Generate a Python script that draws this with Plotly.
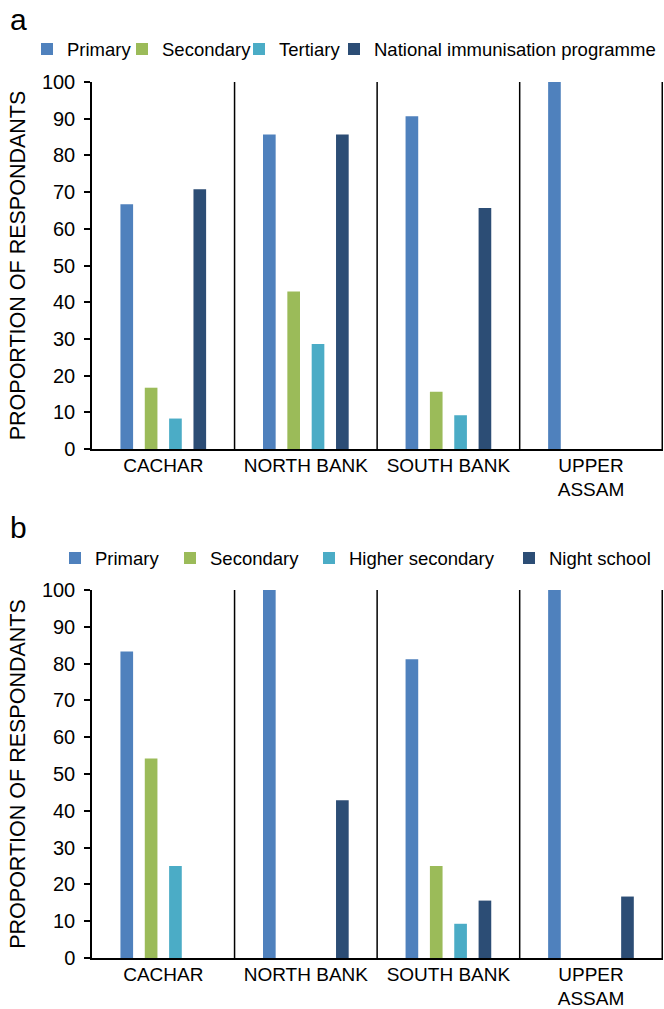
import plotly.graph_objects as go

# ---------------- data ----------------
regions = ["CACHAR", "NORTH BANK", "SOUTH BANK", "UPPER<br>ASSAM"]

series_a = ["Primary", "Secondary", "Tertiary", "National immunisation programme"]
primary_a = [66.7, 85.7, 90.7, 100]
secondary_a = [16.7, 42.9, 15.6, 0]
tertiary_a = [8.3, 28.6, 9.2, 0]
nip_a = [70.8, 85.7, 65.7, 0]

series_b = ["Primary", "Secondary", "Higher secondary", "Night school"]
primary_b = [83.3, 100, 81.2, 100]
secondary_b = [54.2, 0, 25.0, 0]
higher_secondary_b = [25.0, 0, 9.3, 0]
night_school_b = [0, 42.9, 15.6, 16.7]

y_ticks = [0, 10, 20, 30, 40, 50, 60, 70, 80, 90, 100]
y_title = "PROPORTION OF RESPONDANTS"

# ---------------- style ----------------
colors = ["#4F81BD", "#9BBB59", "#4BACC6", "#2C4D75"]
FONT = "Arial, 'Liberation Sans', sans-serif"

# the page body margin is removed (post_script below), so figure fills the window
W, H = 664, 1009

PLOT_L, PLOT_R = 92, 663
A_TOP, A_BOT = 82, 449
B_TOP, B_BOT = 590, 958
ML, MR, MT, MB = PLOT_L, W - PLOT_R, A_TOP, H - B_BOT
plot_w = W - ML - MR
plot_h = H - MT - MB

# legend text start positions (px) per item
leg_text_a = [67, 162, 279, 374]
leg_text_b = [95, 210, 349, 549]
leg_y_a = 49.5
leg_y_b = 558.5
LEG_OFF = 40

fig = go.Figure()

panels = [
    (series_a, [primary_a, secondary_a, tertiary_a, nip_a], "x", "y", leg_text_a, leg_y_a, 1),
    (series_b, [primary_b, secondary_b, higher_secondary_b, night_school_b], "x2", "y2", leg_text_b, leg_y_b, 5),
]

layout_legends = {}
for names, vals, xa, ya, leg_x, leg_y, leg_start in panels:
    for k, (name, v) in enumerate(zip(names, vals)):
        lid = "legend" if leg_start + k == 1 else f"legend{leg_start + k}"
        fig.add_trace(go.Bar(
            x=regions, y=v, name=name, xaxis=xa, yaxis=ya,
            marker=dict(color=colors[k], line=dict(width=0)),
            legend=lid, showlegend=True,
        ))
        layout_legends[lid] = dict(
            xref="container", yref="container",
            x=(leg_x[k] - LEG_OFF) / W, xanchor="left",
            y=1 - leg_y / H, yanchor="middle",
            orientation="h", bgcolor="rgba(0,0,0,0)", borderwidth=0,
            font=dict(family=FONT, size=18.5, color="#000"),
        )

a_bottom = (H - MB - A_BOT) / plot_h
b_top = (H - MB - B_TOP) / plot_h

yax = dict(
    range=[0, 100], tickvals=y_ticks, showgrid=False, zeroline=False,
    showline=True, linecolor="#000", linewidth=1.5,
    ticks="outside", ticklen=6, tickwidth=1.5, tickcolor="#000",
    tickfont=dict(family=FONT, size=20, color="#000"),
    ticklabelstandoff=5,
    title=dict(text=y_title, font=dict(family=FONT, size=21.5, color="#000"), standoff=10),
)
xax = dict(
    showgrid=False, zeroline=False, showline=True, linecolor="#000", linewidth=1.5,
    ticks="", tickfont=dict(family=FONT, size=19, color="#000"), ticklabelstandoff=-2,
)

shapes = []
for xa, ya in [("x", "y"), ("x2", "y2")]:
    for i in range(len(regions)):
        shapes.append(dict(type="line", xref=xa, yref=ya, x0=i + 0.5, x1=i + 0.5,
                           y0=0, y1=100, line=dict(color="#000", width=1.5)))


def paper_x(x):
    return (x - ML) / plot_w


def paper_y(y):
    return (H - MB - y) / plot_h


fig.update_layout(
    width=W, height=H,
    margin=dict(l=ML, r=MR, t=MT, b=MB, autoexpand=False),
    paper_bgcolor="white", plot_bgcolor="white",
    barmode="group", bargap=0.317, bargroupgap=0.48,
    font=dict(family=FONT, color="#000"),
    xaxis=dict(xax, domain=[0, 1], anchor="y"),
    yaxis=dict(yax, domain=[a_bottom, 1], anchor="x"),
    xaxis2=dict(xax, domain=[0, 1], anchor="y2"),
    yaxis2=dict(yax, domain=[0, b_top], anchor="x2"),
    shapes=shapes,
    annotations=[
        dict(text="a", xref="paper", yref="paper", x=paper_x(8), xanchor="left",
             y=paper_y(19), yanchor="middle", showarrow=False,
             font=dict(family=FONT, size=30, color="#000")),
        dict(text="b", xref="paper", yref="paper", x=paper_x(8), xanchor="left",
             y=paper_y(527), yanchor="middle", showarrow=False,
             font=dict(family=FONT, size=30, color="#000")),
    ],
    **layout_legends,
)

fig.write_html(
    "out.html",
    config={"displayModeBar": False},
    post_script="document.body.style.margin='0px';document.body.style.overflow='hidden';",
)
